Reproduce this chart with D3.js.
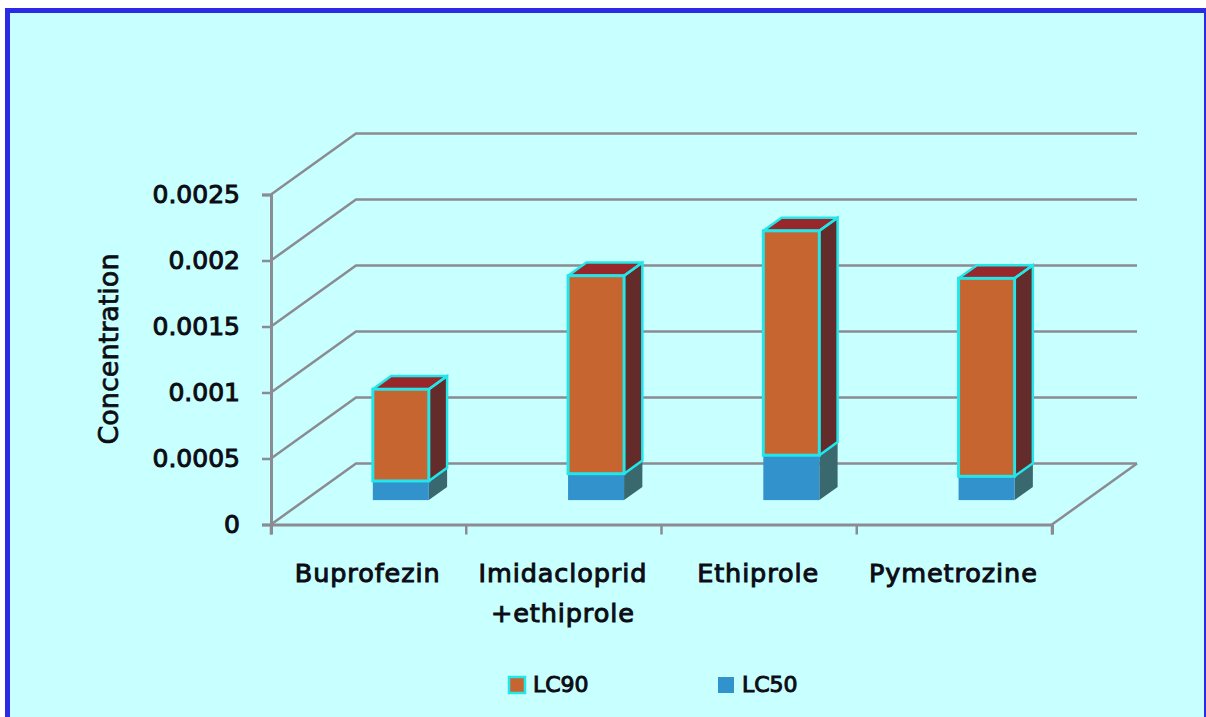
<!DOCTYPE html>
<html>
<head>
<meta charset="utf-8">
<script src="https://cdn.jsdelivr.net/npm/d3@7/dist/d3.min.js"></script>
<style>
html, body { margin: 0; padding: 0; background: #fff; }
svg { display: block; }
text { font-family: "DejaVu Sans", sans-serif; fill: #0c0c14; stroke: #0c0c14; stroke-width: 1px; }
</style>
</head>
<body>
<svg id="chart" width="1206" height="717"></svg>
<script>
// Insecticide toxicity, stacked column segments in concentration units
const categories = ["Buprofezin", "Imidacloprid\n+ethiprole", "Ethiprole", "Pymetrozine"];
const lc50 = [0.000145, 0.0002, 0.00034, 0.00018];
const lc90 = [0.000695, 0.0015, 0.0017, 0.0015];
const yTicks = [0, 0.0005, 0.001, 0.0015, 0.002, 0.0025];
const legendLabels = ["LC90", "LC50"];

const palette = {
  bg: "#c8ffff", frame: "#2b2be6", grid: "#8b8b93", edge: "#22e6ea",
  lc90: { front: "#c76530", top: "#97272a", side: "#642b2b" },
  lc50: { front: "#3292cc", top: "#2f7d96", side: "#39686e" }
};

const svg = d3.select("#chart");
const W = 1206, H = 717;

// Panel background and its blue frame (top and left run off the page edges)
svg.append("rect").attr("width", W).attr("height", H).attr("fill", "#fff");
svg.append("rect").attr("x", 5).attr("y", 8).attr("width", W).attr("height", H)
  .attr("fill", palette.frame);
svg.append("rect").attr("x", 10).attr("y", 13).attr("width", W - 12).attr("height", H)
  .attr("fill", palette.bg);

const x = d3.scaleBand().domain(categories).range([271, 1052]).paddingInner(0).paddingOuter(0);
const y = d3.scaleLinear().domain([0, 0.0025]).range([524.5, 194.5]);

// Oblique projection: depth 0 is the front of the floor, depth 1 the back wall
const depthX = 85, depthY = -61;
const proj = (px, py, d) => [px + d * depthX, py + d * depthY];
const poly = pts => pts.map(p => p.join(",")).join(" ");

const gridG = svg.append("g");
yTicks.forEach(t => {
  const a = proj(x.range()[0], y(t), 0);
  const b = proj(x.range()[0], y(t), 1);
  const c = proj(x.range()[1], y(t), 1);
  gridG.append("polyline")
    .attr("points", poly([a, b, c]))
    .attr("fill", "none").attr("stroke", palette.grid).attr("stroke-width", 2.5);
});
// Right edge of the floor
gridG.append("line")
  .attr("x1", x.range()[1]).attr("y1", y(0))
  .attr("x2", proj(x.range()[1], y(0), 1)[0]).attr("y2", proj(x.range()[1], y(0), 1)[1])
  .attr("stroke", palette.grid).attr("stroke-width", 2.5);

// Axes
const yAxis = d3.axisLeft(y).tickValues(yTicks).tickSize(9).tickPadding(22)
  .tickFormat(d => String(d));
const yG = svg.append("g").attr("transform", `translate(${x.range()[0]},0)`).call(yAxis);
const xAxis = d3.axisBottom(x).tickSize(10).tickFormat("");
const xG = svg.append("g").attr("transform", `translate(0,${y(0)})`).call(xAxis);
xG.selectAll(".tick").remove();
x.domain().concat(["end"]).forEach(c => {
  const px = c === "end" ? x.range()[1] : x(c);
  xG.append("line").attr("x1", px).attr("x2", px).attr("y1", 0).attr("y2", 10);
});
[yG, xG].forEach(g => {
  g.selectAll("path.domain").attr("stroke", palette.grid).attr("stroke-width", 3);
  g.selectAll("line").attr("stroke", palette.grid).attr("stroke-width", 2.5);
});
yG.selectAll("text").attr("font-size", 25)
  .style("font-family", '"DejaVu Sans", sans-serif').attr("fill", "#0c0c14");

// Category labels
categories.forEach(c => {
  const t = svg.append("text")
    .attr("text-anchor", "middle")
    .attr("font-size", 25.5)
    .attr("letter-spacing", 0.9)
    .attr("transform", `translate(${x(c) + x.bandwidth() / 2 - 1},582)`);
  c.split("\n").forEach((line, i) => {
    t.append("tspan").attr("x", 0).attr("dy", i ? 40 : 0).text(line);
  });
});

// Y axis title
svg.append("text")
  .attr("transform", "translate(118,349) rotate(-90)")
  .attr("text-anchor", "middle")
  .attr("font-size", 27)
  .style("stroke-width", "0.7px")
  .text("Concentration");

// 3D stacked columns
const frontDepth = 0.40, barDepth = 0.215;
const barW = 56;
const baseY = y(0) + frontDepth * depthY;
const lift = v => y(v) - y(0);

function box(g, left, y0, y1, col, drawTop) {
  const right = left + barW;
  const dx = barDepth * depthX, dy = barDepth * depthY;
  // y0 is the lower edge of the front face, y1 the upper edge
  g.append("polygon")
    .attr("points", poly([[right, y0], [right + dx, y0 + dy], [right + dx, y1 + dy], [right, y1]]))
    .attr("fill", col.side);
  if (drawTop) {
    g.append("polygon")
      .attr("points", poly([[left, y1], [left + dx, y1 + dy], [right + dx, y1 + dy], [right, y1]]))
      .attr("fill", col.top).attr("stroke", palette.edge).attr("stroke-width", 2.5).attr("stroke-linejoin", "round");
  }
}

categories.forEach((c, i) => {
  const left = x(c) + x.bandwidth() / 2 - barW / 2 + frontDepth * depthX - 1.8;
  const g = svg.append("g");
  const y50 = baseY + lift(lc50[i]);
  const y90 = baseY + lift(lc50[i] + lc90[i]);
  const dx = barDepth * depthX, dy = barDepth * depthY;

  box(g, left, baseY, y50, palette.lc50, false);
  box(g, left, y50, y90, palette.lc90, true);

  g.append("rect").attr("x", left).attr("y", y50).attr("width", barW).attr("height", baseY - y50)
    .attr("fill", palette.lc50.front);
  g.append("rect").attr("x", left).attr("y", y90).attr("width", barW).attr("height", y50 - y90)
    .attr("fill", palette.lc90.front).attr("stroke", palette.edge).attr("stroke-width", 3);

  // Cyan edges on the LC90 side face
  g.append("polyline")
    .attr("points", poly([[left + barW, y50], [left + barW + dx, y50 + dy], [left + barW + dx, y90 + dy], [left + barW, y90]]))
    .attr("fill", "none").attr("stroke", palette.edge).attr("stroke-width", 2.5);
});

// Legend
const legendX = [509, 718];
legendLabels.forEach((lab, i) => {
  const key = i === 0 ? palette.lc90.front : palette.lc50.front;
  svg.append("rect").attr("x", legendX[i]).attr("y", 677).attr("width", 16).attr("height", 16)
    .attr("fill", key)
    .attr("stroke", i === 0 ? palette.edge : "none").attr("stroke-width", 2.5);
  svg.append("text").attr("x", legendX[i] + 24).attr("y", 692)
    .attr("font-size", 22).text(lab);
});
</script>
</body>
</html>
